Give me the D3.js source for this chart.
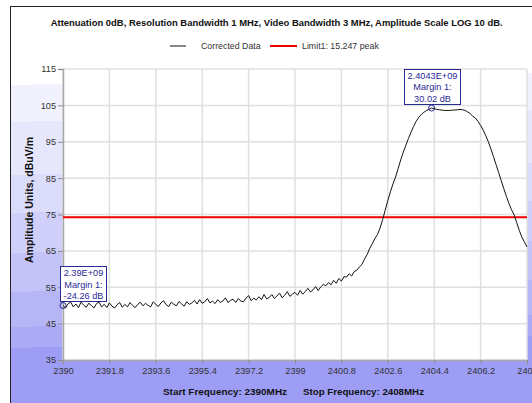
<!DOCTYPE html>
<html>
<head>
<meta charset="utf-8">
<script src="https://cdn.jsdelivr.net/npm/d3@7"></script>
<style>
  html, body { margin: 0; padding: 0; background: #fff; overflow: hidden; }
  svg { display: block; }
</style>
</head>
<body>
<svg id="chart" width="532" height="403"></svg>
<script>
// Sweep settings (MHz)
const freqStart = 2390;
const freqStep = 0.1;

// Corrected trace amplitude, dBuV/m, one value per sweep step (2390.0 … 2408.0)
const amplitude = [
  49.99, 49.3, 50.5, 50.9, 49.6, 50.4, 49.4, 50.9, 50.1, 49.5,
  50.6, 50.0, 49.3, 50.5, 50.9, 49.6, 50.3, 49.4, 50.7, 49.8,
  49.3, 50.2, 50.8, 49.5, 50.3, 49.6, 50.8, 50.0, 49.4, 50.3,
  50.9, 49.9, 50.6, 50.0, 49.6, 51.0, 50.3, 49.7, 50.7, 51.3,
  50.2, 49.7, 50.9, 50.3, 49.9, 51.1, 50.4, 49.8, 51.0, 50.3,
  50.7, 51.4, 50.4, 51.6, 50.6, 51.0, 51.9, 50.7, 51.2, 50.5,
  51.6, 50.8, 51.2, 52.1, 50.8, 51.4, 51.7, 50.8, 51.9, 51.2,
  51.0, 52.0, 52.7, 51.3, 52.0, 51.5, 52.4, 51.6, 53.0, 51.8,
  52.2, 53.0, 51.9, 52.6, 53.4, 52.1, 52.8, 53.8, 52.5, 53.1,
  53.6, 52.8, 54.1, 53.1, 53.8, 54.7, 53.7, 54.3, 55.2, 54.1,
  55.1, 55.8, 55.4, 56.3, 55.7, 56.9, 56.1, 57.4, 56.7, 57.9,
  57.8, 58.7, 58.1, 59.3, 59.7, 60.6, 61.3, 62.8, 64.0, 65.7,
  67.0, 68.4, 69.5, 71.3, 73.6, 76.2, 78.8, 81.2, 83.4, 85.3,
  87.6, 90.0, 92.1, 94.0, 95.9, 97.6, 99.2, 100.6, 101.7, 102.5,
  103.1, 103.6, 103.9, 104.27, 104.1, 103.9, 103.8, 103.7, 103.6, 103.6,
  103.6, 103.7, 103.7, 103.8, 103.9, 103.8, 103.6, 103.2, 102.7, 102.0,
  101.5, 100.6, 99.5, 98.2, 96.7, 95.0, 93.0, 90.9, 88.7, 86.5,
  84.3, 82.1, 80.0, 78.0, 76.3, 74.9, 72.8, 70.6, 68.8, 67.4,
  66.1
];

// Limit line level (dBuV/m)
const limitLevel = 74.25;

// Marker positions (sweep indices)
const markerIndices = [0, 143];

// Axis ticks
const xTicks = [2390, 2391.8, 2393.6, 2395.4, 2397.2, 2399, 2400.8, 2402.6, 2404.4, 2406.2, 2408];
const yTicks = [35, 45, 55, 65, 75, 85, 95, 105, 115];

// Background shading bands (left-edge y positions and colours)
const bandEdges = [85, 122, 175, 213, 253, 292, 327, 348];
const bandColors = ["#ffffff", "#f2f2fe", "#e7e7fc", "#dbdbfa", "#cfcff9", "#c3c3f8", "#b6b6f6", "#aaaaf5", "#9d9df5"];

const W = 532, H = 403;
const plot = { left: 63, right: 527, top: 69, bottom: 360 };

const svg = d3.select("#chart");
const defs = svg.append("defs");

// Stepped vertical shading with a slight tilt
const gx = 9, gy = 403, glen2 = gx * gx + gy * gy;
const grad = defs.append("linearGradient")
  .attr("id", "bgBands")
  .attr("gradientUnits", "userSpaceOnUse")
  .attr("x1", 0).attr("y1", 0).attr("x2", gx).attr("y2", gy);
bandColors.forEach((c, i) => {
  const from = i === 0 ? 0 : (10 * gx + bandEdges[i - 1] * gy) / glen2;
  const to = i === bandColors.length - 1 ? 1 : (10 * gx + bandEdges[i] * gy) / glen2;
  grad.append("stop").attr("offset", from).attr("stop-color", c);
  grad.append("stop").attr("offset", to).attr("stop-color", c);
});

svg.append("rect").attr("x", 0).attr("y", 0).attr("width", W).attr("height", H).attr("fill", "#fff");
svg.append("rect")
  .attr("x", 10.5).attr("y", 6.5).attr("width", 600).attr("height", 500)
  .attr("fill", "url(#bgBands)").attr("stroke", "#222").attr("stroke-width", 1);

const x = d3.scaleLinear().domain([2390, 2408]).range([plot.left, plot.right]);
const y = d3.scaleLinear().domain([35, 115]).range([plot.bottom, plot.top]);

const trace = amplitude.map((v, i) => ({ f: freqStart + i * freqStep, v }));

// Plot area
svg.append("rect")
  .attr("x", plot.left).attr("y", plot.top)
  .attr("width", plot.right - plot.left).attr("height", plot.bottom - plot.top)
  .attr("fill", "#fff");

// Grid
const grid = svg.append("g").attr("stroke", "#e0e0e0").attr("stroke-width", 1.5);
grid.selectAll("line.v").data(xTicks).join("line")
  .attr("x1", d => x(d)).attr("x2", d => x(d))
  .attr("y1", plot.top).attr("y2", plot.bottom);
grid.selectAll("line.h").data(yTicks).join("line")
  .attr("x1", plot.left).attr("x2", plot.right)
  .attr("y1", d => y(d)).attr("y2", d => y(d));

// Axes
const tickFont = "Liberation Sans, Arial, sans-serif";
const xAxis = svg.append("g")
  .attr("transform", `translate(0,${plot.bottom})`)
  .call(d3.axisBottom(x).tickValues(xTicks).tickSize(4).tickPadding(3).tickFormat(d => String(d)));
const yAxis = svg.append("g")
  .attr("transform", `translate(${plot.left},0)`)
  .call(d3.axisLeft(y).tickValues(yTicks).tickSize(5).tickPadding(2).tickFormat(d => String(d)));
[xAxis, yAxis].forEach(g => {
  g.select(".domain").attr("stroke", "#a8a8a8").attr("stroke-width", 1.5);
  g.selectAll(".tick line").attr("stroke", "#8a8a8a");
  g.selectAll(".tick text").attr("fill", "#333").style("font-family", tickFont).style("font-size", "9.2px");
});

// Limit line
svg.append("line")
  .attr("x1", plot.left).attr("x2", plot.right)
  .attr("y1", y(limitLevel)).attr("y2", y(limitLevel))
  .attr("stroke", "#ee0000").attr("stroke-width", 2);

// Corrected data trace
svg.append("path")
  .datum(trace)
  .attr("fill", "none")
  .attr("stroke", "#111")
  .attr("stroke-width", 1)
  .attr("d", d3.line().x(d => x(d.f)).y(d => y(d.v)));

// Markers
const navy = "#2a2a96";
markerIndices.forEach(i => {
  const p = trace[i];
  const cx = x(p.f), cy = y(p.v);
  const lines = [
    `${+(p.f / 1000).toFixed(4)}E+09`,
    "Margin 1:",
    `${(p.v - limitLevel).toFixed(2)} dB`
  ];
  const g = svg.append("g");
  const box = g.append("rect").attr("fill", "#fff").attr("stroke", navy).attr("stroke-width", 1);
  const txt = g.append("text")
    .style("font-family", tickFont).style("font-size", "9.2px")
    .attr("fill", navy).attr("text-anchor", "middle");
  lines.forEach((l, k) => txt.append("tspan").attr("x", 0).attr("dy", k === 0 ? 0 : 11.4).text(l));
  const bb = txt.node().getBBox();
  const bw = bb.width + 6, bh = 35;
  let bx = cx - bw / 2;
  if (bx < plot.left - 4) bx = plot.left - 3.5;
  const by = cy - 4 - bh;
  box.attr("x", Math.round(bx) + 0.5).attr("y", Math.round(by) + 0.5).attr("width", Math.round(bw)).attr("height", bh);
  txt.attr("transform", `translate(${Math.round(bx) + 0.5 + Math.round(bw) / 2},${by + 10})`);
  g.append("circle").attr("cx", cx).attr("cy", cy).attr("r", 3)
    .attr("fill", "none").attr("stroke", navy).attr("stroke-width", 1);
});

// Title
svg.append("text")
  .attr("x", 276.7).attr("y", 26)
  .attr("text-anchor", "middle")
  .attr("textLength", 452).attr("lengthAdjust", "spacingAndGlyphs")
  .style("font-family", tickFont).style("font-size", "9.6px").style("font-weight", "bold")
  .attr("fill", "#111")
  .text("Attenuation 0dB, Resolution Bandwidth 1 MHz, Video Bandwidth 3 MHz, Amplitude Scale LOG 10 dB.");

// Legend
const legend = svg.append("g").style("font-family", tickFont).style("font-size", "8.8px").attr("fill", "#333");
legend.append("line").attr("x1", 170).attr("x2", 186).attr("y1", 46).attr("y2", 46).attr("stroke", "#111").attr("stroke-width", 1);
legend.append("text").attr("x", 201).attr("y", 49.2).text("Corrected Data");
legend.append("line").attr("x1", 270).attr("x2", 297).attr("y1", 46).attr("y2", 46).attr("stroke", "#ee0000").attr("stroke-width", 2);
legend.append("text").attr("x", 302).attr("y", 49.2).text("Limit1: 15.247 peak");

// Axis titles
svg.append("text")
  .attr("transform", "translate(32.5,200) rotate(-90)")
  .attr("text-anchor", "middle")
  .attr("textLength", 126).attr("lengthAdjust", "spacingAndGlyphs")
  .style("font-family", tickFont).style("font-size", "10px").style("font-weight", "bold")
  .attr("fill", "#111")
  .text("Amplitude Units, dBuV/m");

svg.append("text")
  .attr("x", 163).attr("y", 395)
  .attr("textLength", 124).attr("lengthAdjust", "spacingAndGlyphs")
  .style("font-family", tickFont).style("font-size", "9.8px").style("font-weight", "bold")
  .attr("fill", "#111")
  .text("Start Frequency: 2390MHz");
svg.append("text")
  .attr("x", 303).attr("y", 395)
  .attr("textLength", 121).attr("lengthAdjust", "spacingAndGlyphs")
  .style("font-family", tickFont).style("font-size", "9.8px").style("font-weight", "bold")
  .attr("fill", "#111")
  .text("Stop Frequency: 2408MHz");
</script>
</body>
</html>
